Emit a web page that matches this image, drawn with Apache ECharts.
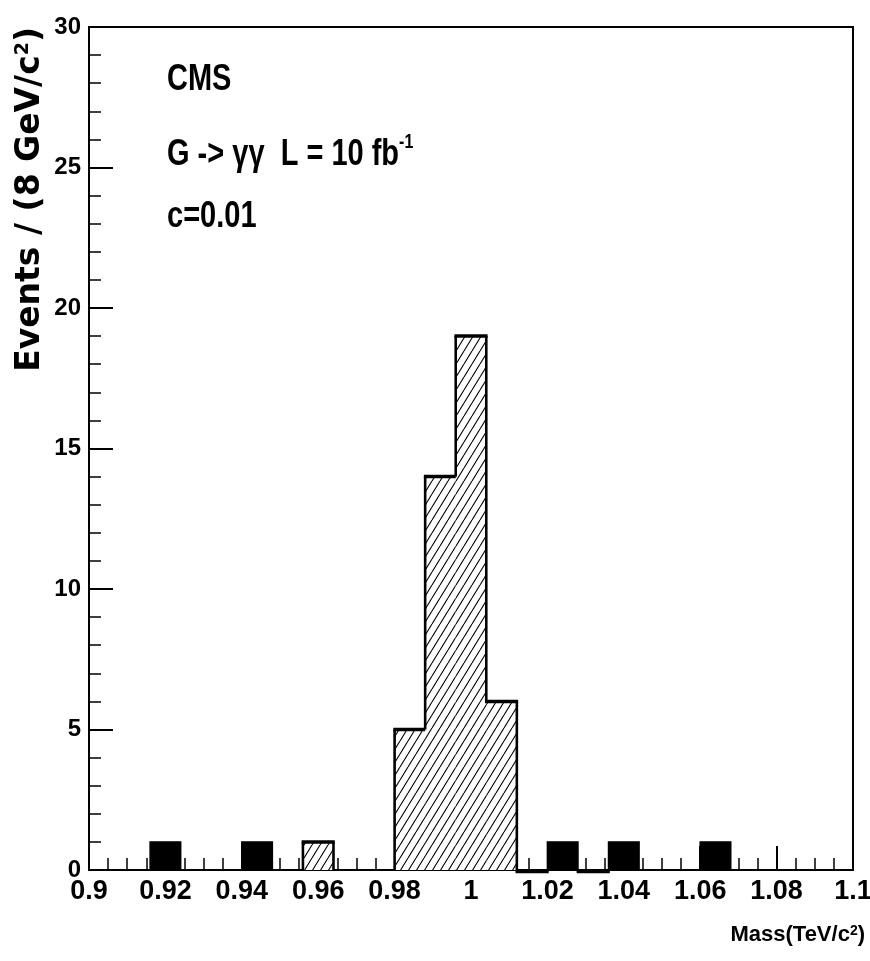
<!DOCTYPE html>
<html>
<head>
<meta charset="utf-8">
<script src="https://cdn.jsdelivr.net/npm/echarts@6/dist/echarts.min.js"></script>
<style>
html,body{margin:0;padding:0;background:#fff;}
#chart{width:870px;height:961px;}
</style>
</head>
<body>
<div id="chart"></div>
<script>
// ---- data ----
const binLow = [0.900,0.908,0.916,0.924,0.932,0.940,0.948,0.956,0.964,0.972,
                0.980,0.988,0.996,1.004,1.012,1.020,1.028,1.036,1.044,1.052,
                1.060,1.068,1.076,1.084,1.092];
const binHigh = [0.908,0.916,0.924,0.932,0.940,0.948,0.956,0.964,0.972,0.980,
                 0.988,0.996,1.004,1.012,1.020,1.028,1.036,1.044,1.052,1.060,
                 1.068,1.076,1.084,1.092,1.100];
// signal (hatched) histogram
const signalCounts = [0,0,0,0,0,0,0,1,0,0,
                      5,14,19,6,-0.05,0,-0.05,0,0,0,
                      0,0,0,0,0];
// background (solid black) histogram
const backgroundCounts = [0,0,1,0,0,1,0,0,0,0,
                          0,0,0,0,0,1,0,1,0,0,
                          1,0,0,0,0];
const xTickLabels = ['0.9','0.92','0.94','0.96','0.98','1','1.02','1.04','1.06','1.08','1.1'];
const yTickLabels = ['0','5','10','15','20','25','30'];
const annotations = ['CMS', 'G -> \u03b3\u03b3  L = 10 fb', 'c=0.01'];

// ---- hatch pattern ----
function makeHatch(){
  const w = 8, h = 13;
  const c = document.createElement('canvas');
  c.width = w; c.height = h;
  const ctx = c.getContext('2d');
  ctx.fillStyle = '#fff'; ctx.fillRect(0,0,w,h);
  ctx.strokeStyle = '#000'; ctx.lineWidth = 1.1;
  for (const dx of [-w, 0, w]) {
    ctx.beginPath(); ctx.moveTo(dx, h); ctx.lineTo(dx + w, 0); ctx.stroke();
  }
  return c;
}
const hatch = makeHatch();

const sigData = binLow.map((lo, i) => [lo, binHigh[i], signalCounts[i], i > 0 ? signalCounts[i-1] : 0]);
const bkgData = binLow.map((lo, i) => [lo, binHigh[i], backgroundCounts[i]]).filter(d => d[2] !== 0);

const sans = '"Liberation Sans", Arial, Helvetica, sans-serif';

const chart = echarts.init(document.getElementById('chart'));
chart.setOption({
  animation: false,
  backgroundColor: '#fff',
  grid: { left: 89, right: 17, top: 27, bottom: 91, show: true, borderColor: '#000', borderWidth: 2, outerBoundsMode: 'none', containLabel: false },
  xAxis: {
    type: 'value', min: 0.9, max: 1.1, interval: 0.02,
    axisLine: { lineStyle: { color: '#000', width: 2 } },
    axisTick: { inside: true, length: 24, lineStyle: { color: '#000', width: 2 } },
    minorTick: { show: true, splitNumber: 4, length: 12, lineStyle: { color: '#000', width: 1.5 } },
    splitLine: { show: false }, minorSplitLine: { show: false },
    axisLabel: {
      margin: 8, color: '#000', fontSize: 27, fontWeight: 'bold', fontFamily: sans,
      formatter: v => xTickLabels[Math.round((v - 0.9) / 0.02)]
    },
    name: 'Mass(TeV/c{s|2})',
    nameLocation: 'end', nameGap: 12,
    nameTextStyle: {
      color: '#000', fontSize: 22, fontWeight: 'bold', fontFamily: sans, align: 'right', verticalAlign: 'top',
      padding: [54, 0, 0, 0],
      rich: { s: { fontSize: 14, fontWeight: 'bold', verticalAlign: 'top', fontFamily: sans, color: '#000' } }
    }
  },
  yAxis: {
    type: 'value', min: 0, max: 30, interval: 5,
    axisLine: { show: true, lineStyle: { color: '#000', width: 2 } },
    axisTick: { show: true, inside: true, length: 24, lineStyle: { color: '#000', width: 2 } },
    minorTick: { show: true, splitNumber: 5, length: 12, lineStyle: { color: '#000', width: 1.5 } },
    splitLine: { show: false }, minorSplitLine: { show: false },
    axisLabel: {
      margin: 8, color: '#000', fontSize: 24, fontWeight: 'bold', fontFamily: sans,
      formatter: v => yTickLabels[Math.round(v / 5)]
    },
    name: 'Events / (8 GeV/c{s|2})',
    nameLocation: 'end', nameRotate: 90, nameGap: 0,
    nameTextStyle: {
      color: '#000', fontSize: 33, fontWeight: 'bold', fontFamily: '"DejaVu Sans", sans-serif',
      align: 'right', verticalAlign: 'bottom', padding: [0, 0, 42, 0],
      rich: { s: { fontSize: 19, fontWeight: 'bold', verticalAlign: 'top', fontFamily: '"DejaVu Sans", sans-serif', color: '#000' } }
    }
  },
  series: [
    {
      type: 'custom', name: 'background',
      data: bkgData,
      encode: { x: [0, 1], y: 2 },
      renderItem: (params, api) => {
        const p0 = api.coord([api.value(0), 0]);
        const p1 = api.coord([api.value(1), api.value(2)]);
        return { type: 'rect', shape: { x: p0[0], y: p1[1], width: p1[0] - p0[0], height: p0[1] - p1[1] },
                 style: { fill: '#000', stroke: '#000', lineWidth: 1.5 } };
      },
      z: 3
    },
    {
      type: 'custom', name: 'signal',
      data: sigData,
      encode: { x: [0, 1], y: 2 },
      renderItem: (params, api) => {
        const lo = api.value(0), hi = api.value(1), v = api.value(2), p = api.value(3);
        const a = api.coord([lo, 0]);
        const b = api.coord([hi, v]);
        const children = [];
        if (v > 0) {
          children.push({ type: 'rect', shape: { x: a[0], y: b[1], width: b[0] - a[0], height: a[1] - b[1] },
                          style: { fill: { image: hatch, repeat: 'repeat' } } });
        }
        if (v !== 0) {
          children.push({ type: 'line', shape: { x1: a[0] - 1.3, y1: b[1], x2: b[0] + 1.3, y2: b[1] },
                          style: { stroke: '#000', lineWidth: 3.5 } });
        }
        if (p !== v) {
          const pp = api.coord([lo, p]);
          children.push({ type: 'line', shape: { x1: a[0], y1: pp[1], x2: a[0], y2: b[1] },
                          style: { stroke: '#000', lineWidth: 2.6 } });
        }
        return { type: 'group', children };
      },
      z: 4
    }
  ],
  graphic: [
    { type: 'text', x: 167, y: 80, scaleY: 1.28, z: 10,
      style: { text: annotations[0], fontSize: 29, fontWeight: 'bold', fontFamily: sans, fill: '#000', verticalAlign: 'middle', align: 'left' } },
    { type: 'text', x: 167, y: 155, scaleY: 1.28, z: 10,
      style: { text: '{m|' + annotations[1] + '}{s|-1}', fontSize: 29, fontWeight: 'bold', fontFamily: sans, fill: '#000', verticalAlign: 'middle', align: 'left',
               rich: { m: { fontSize: 29, fontWeight: 'bold', fontFamily: sans, lineHeight: 36 },
                       s: { fontSize: 16, fontWeight: 'bold', fontFamily: sans, verticalAlign: 'top', lineHeight: 36 } } } },
    { type: 'text', x: 167, y: 217, scaleY: 1.28, z: 10,
      style: { text: annotations[2], fontSize: 29, fontWeight: 'bold', fontFamily: sans, fill: '#000', verticalAlign: 'middle', align: 'left' } }
  ]
});
</script>
</body>
</html>
